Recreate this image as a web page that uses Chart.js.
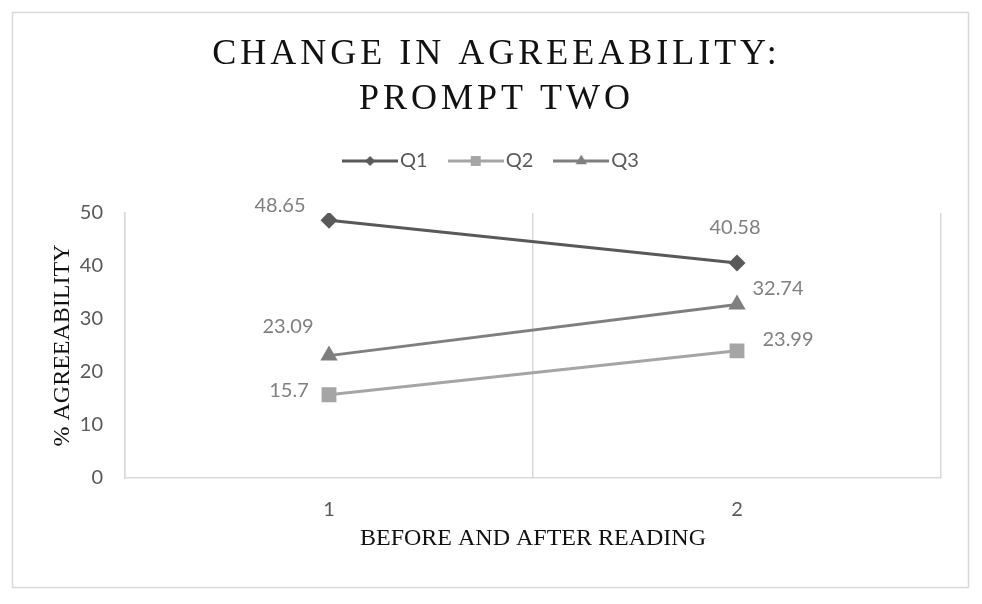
<!DOCTYPE html>
<html>
<head>
<meta charset="utf-8">
<script src="https://cdn.jsdelivr.net/npm/chart.js@4.4.0/dist/chart.umd.min.js"></script>
<style>
  html, body { margin: 0; padding: 0; background: #fff; }
</style>
</head>
<body>
<canvas id="myChart" width="982" height="604"></canvas>
<script>
let categorias = ['1', '2'];
let q1 = [48.65, 40.58];
let q2 = [15.7, 23.99];
let q3 = [23.09, 32.74];
let nomes = ['Q1', 'Q2', 'Q3'];
let cores = ['#595959', '#a5a5a5', '#7f7f7f'];
let estilos = ['rectRot', 'rect', 'triangle'];
let raios = [8.5, 10.5, 10];

// legend sample: short line with the marker in the middle
function amostra(cor, estilo, raio) {
    let c = document.createElement('canvas');
    c.width = 56;
    c.height = 16;
    let g = c.getContext('2d');
    g.strokeStyle = cor;
    g.lineWidth = 3;
    g.beginPath();
    g.moveTo(0, 8);
    g.lineTo(56, 8);
    g.stroke();
    g.fillStyle = cor;
    Chart.helpers.drawPoint(g, { pointStyle: estilo, radius: raio, rotation: 0, borderWidth: 0 }, 28, 8);
    return c;
}
let amostras = [
    amostra(cores[0], estilos[0], 5),
    amostra(cores[1], estilos[1], 7),
    amostra(cores[2], estilos[2], 6.5)
];

// frame, letter spacing on the title, fixed legend height
const moldura = {
    id: 'moldura',
    beforeLayout(chart) {
        let lg = chart.legend;
        if (lg && !lg._fixo) {
            let fit = lg.fit;
            lg.fit = function () {
                fit.apply(this, arguments);
                this.height = 90;
            };
            lg._fixo = true;
        }
        let tb = chart.titleBlock;
        if (tb && !tb._fixo) {
            let draw = tb.draw;
            tb.draw = function () {
                chart.ctx.save();
                chart.ctx.letterSpacing = '4px';
                chart.ctx.translate(2, 0);
                draw.apply(this, arguments);
                chart.ctx.restore();
            };
            tb._fixo = true;
        }
    },
    beforeDraw(chart) {
        let ctx = chart.ctx;
        ctx.save();
        ctx.fillStyle = '#fff';
        ctx.fillRect(0, 0, chart.width, chart.height);
        ctx.strokeStyle = '#d9d9d9';
        ctx.lineWidth = 1.5;
        ctx.strokeRect(12.5, 12.5, 956, 575);
        ctx.restore();
    }
};

// value labels next to each point
const rotulos = {
    id: 'rotulos',
    afterDatasetsDraw(chart, args, opts) {
        let ctx = chart.ctx;
        ctx.save();
        ctx.font = opts.font;
        ctx.fillStyle = opts.color;
        ctx.textAlign = 'center';
        ctx.textBaseline = 'middle';
        chart.data.datasets.forEach((ds, i) => {
            let meta = chart.getDatasetMeta(i);
            meta.data.forEach((pt, j) => {
                let d = opts.offsets[i][j];
                ctx.fillText(String(ds.data[j]), pt.x + d[0], pt.y + d[1]);
            });
        });
        ctx.restore();
    }
};

let ctx = document.getElementById('myChart').getContext('2d');

let myChart = new Chart(ctx, {
    type: 'line',
    data: {
        labels: categorias,
        datasets: [q1, q2, q3].map((serie, i) => ({
            label: nomes[i],
            data: serie,
            borderColor: cores[i],
            backgroundColor: cores[i],
            borderWidth: 3,
            pointStyle: estilos[i],
            pointRadius: raios[i],
            pointHoverRadius: raios[i],
            pointBorderWidth: 0,
            pointBackgroundColor: cores[i],
            tension: 0
        }))
    },
    plugins: [moldura, rotulos],
    options: {
        responsive: false,
        animation: false,
        layout: { padding: { top: 32, left: 48, right: 41, bottom: 51 } },
        plugins: {
            title: {
                display: true,
                text: ['CHANGE IN AGREEABILITY:', 'PROMPT TWO'],
                color: '#111111',
                font: { family: 'Liberation Serif', size: 36, weight: 'normal', lineHeight: 1.25 },
                padding: { top: 0, bottom: 1 }
            },
            legend: {
                position: 'top',
                labels: {
                    usePointStyle: true,
                    pointStyleWidth: 40,
                    padding: 28,
                    color: '#595959',
                    font: { family: 'Lato', size: 20 },
                    generateLabels: (chart) => chart.data.datasets.map((ds, i) => ({
                        text: ds.label,
                        pointStyle: amostras[i],
                        fillStyle: cores[i],
                        strokeStyle: cores[i],
                        lineWidth: 0,
                        fontColor: '#595959',
                        datasetIndex: i
                    }))
                }
            },
            tooltip: { enabled: false },
            rotulos: {
                font: '20px Lato',
                color: '#808080',
                offsets: [
                    [[-49, -15], [-2, -35]],
                    [[-40, -4], [51, -11]],
                    [[-41, -29], [41, -16]]
                ]
            }
        },
        scales: {
            x: {
                offset: true,
                grid: { display: true, offset: true, color: '#d9d9d9', lineWidth: 1.5, drawTicks: false },
                border: { display: true, color: '#d9d9d9', width: 1.5 },
                ticks: { color: '#595959', font: { family: 'Lato', size: 20 }, padding: 20 },
                title: {
                    display: true,
                    text: 'BEFORE AND AFTER READING',
                    color: '#111111',
                    font: { family: 'Liberation Serif', size: 24 },
                    padding: 0
                },
                afterFit: (s) => { s.height = 75; }
            },
            y: {
                min: 0,
                max: 50,
                ticks: { stepSize: 10, color: '#595959', font: { family: 'Lato', size: 20 }, padding: 22 },
                grid: { display: false, drawTicks: false },
                border: { display: true, color: '#d9d9d9', width: 1.5 },
                title: {
                    display: true,
                    text: '% AGREEABILITY',
                    color: '#111111',
                    font: { family: 'Liberation Serif', size: 24 },
                    padding: 0
                },
                afterFit: (s) => { s.width = 77; }
            }
        }
    }
});
</script>
</body>
</html>
